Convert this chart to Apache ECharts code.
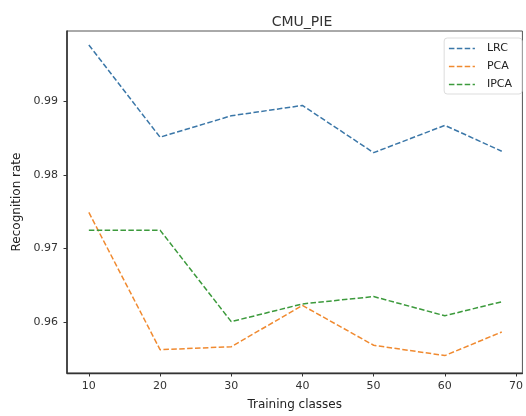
<!DOCTYPE html>
<html><head><meta charset="utf-8">
<script src="https://cdn.jsdelivr.net/npm/echarts@6/dist/echarts.min.js"></script>
<style>html,body{margin:0;padding:0;background:#fff}#c{width:526px;height:416px}</style>
</head><body><div id="c"></div>
<script>
const classes = [10, 20, 30, 40, 50, 60, 68];
const lrc  = [0.9976, 0.9851, 0.9880, 0.9894, 0.9830, 0.9867, 0.9832];
const pca  = [0.9749, 0.9563, 0.9567, 0.9623, 0.9569, 0.9555, 0.9587];
const ipca = [0.9725, 0.9725, 0.9601, 0.9625, 0.9635, 0.9609, 0.9628];
const xTicks = [10, 20, 30, 40, 50, 60, 70];
const yTicks = [0.96, 0.97, 0.98, 0.99];

const font = 'DejaVu Sans';
const dash = [5.5, 2.4];
function pairs(v){ return classes.map((x,i)=>[x, v[i]]); }
function series(name, v, color){
  return {name, type:'line', data: pairs(v), showSymbol:false, symbol:'none',
    lineStyle:{color, width:1.5, type:dash}, itemStyle:{color}, animation:false};
}
const chart = echarts.init(document.getElementById('c'), null, {renderer:'canvas'});
chart.setOption({
  animation:false,
  title:{text:'CMU_PIE', left:297, textAlign:'center', top:10,
    textStyle:{fontFamily:font, fontSize:14, fontWeight:'normal', color:'#333'}},
  grid:{left:67, right:1, top:31, bottom:41, show:true, borderColor:'#555', borderWidth:1, backgroundColor:'#fff'},
  legend:{orient:'vertical', right:4, top:38, itemWidth:26, itemHeight:12, itemGap:7,
    padding:[5,10,4,4], borderColor:'#ddd', borderWidth:1, borderRadius:3, backgroundColor:'#fff',
    itemStyle:{opacity:0}, lineStyle:{width:1.5},
    textStyle:{fontFamily:font, fontSize:11, color:'#222', padding:[0,0,0,7]},
    data:['LRC','PCA','IPCA']},
  xAxis:{type:'value', min:6.93, max:70.9, name:'Training classes', nameLocation:'middle', nameGap:26,
    nameTextStyle:{fontFamily:font, fontSize:12, color:'#222'},
    axisLine:{show:true, lineStyle:{color:'#333', width:1.3}},
    axisTick:{show:true, length:3.5, customValues:xTicks, lineStyle:{color:'#333'}},
    axisLabel:{customValues:xTicks, fontFamily:font, fontSize:11, color:'#333', margin:8},
    splitLine:{show:false}},
  yAxis:{type:'value', min:0.95314, max:0.99949, name:'Recognition rate', nameLocation:'middle', nameGap:43,
    nameTextStyle:{fontFamily:font, fontSize:12, color:'#222'},
    axisLine:{show:true, lineStyle:{color:'#333', width:1.6}},
    axisTick:{show:true, length:3.5, customValues:yTicks, lineStyle:{color:'#333'}},
    axisLabel:{customValues:yTicks, fontFamily:font, fontSize:11, color:'#333', margin:9,
      formatter:v=>v.toFixed(2)},
    splitLine:{show:false}},
  series:[series('LRC', lrc, '#3b77a8'), series('PCA', pca, '#f08a30'), series('IPCA', ipca, '#3c9a3c')]
});
</script></body></html>
